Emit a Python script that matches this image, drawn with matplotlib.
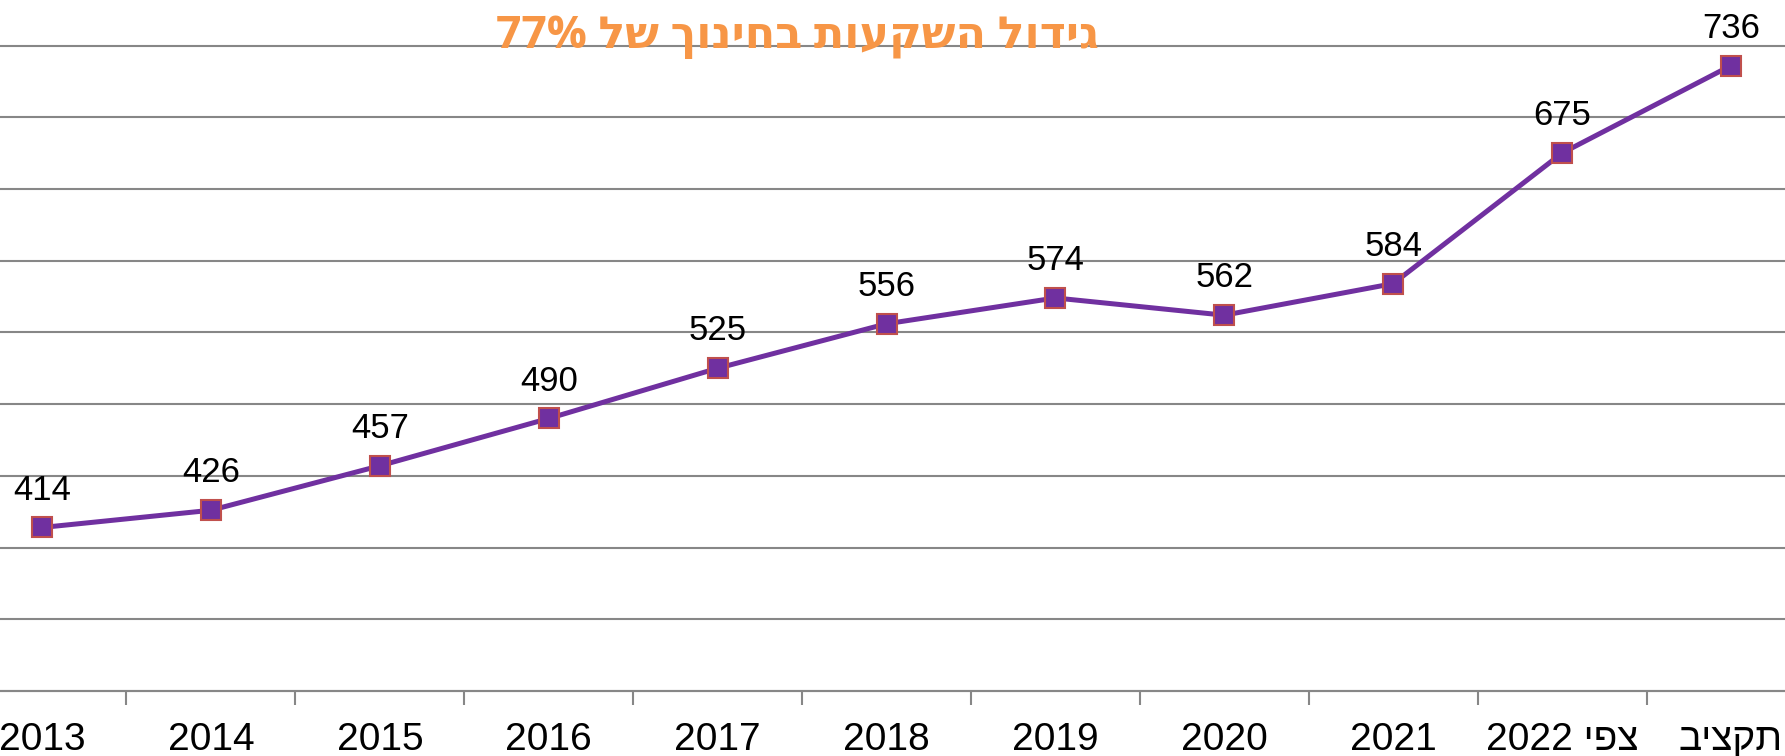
import matplotlib.pyplot as plt

years = ["2013", "2014", "2015", "2016", "2017", "2018", "2019", "2020", "2021", "2022 יפצ", "ביצקת"]
values = [414, 426, 457, 490, 525, 556, 574, 562, 584, 675, 736]
grid_levels = list(range(300, 751, 50))
title = "77% לש ךוניחב תועקשה לודיג"  # visual order for LTR rendering

purple = "#7030A0"
edge = "#C0504D"
gray = "#878787"
orange = "#F79646"
fonts = ["Liberation Sans", "DejaVu Sans"]

fig = plt.figure(figsize=(17.85, 7.56), dpi=100)
ax = fig.add_axes([0, 65 / 756, 1, (691 - 45.5) / 756])

x = list(range(len(values)))
ax.plot(x, values, color=purple, lw=3.6, marker="s", markersize=14.5,
        markerfacecolor=purple, markeredgecolor=edge, markeredgewidth=1.5, zorder=3)

for xi, v in zip(x, values):
    ax.annotate(str(v), (xi, v), xytext=(0, 20), textcoords="offset points",
                ha="center", va="baseline", fontsize=25, family=fonts)

ax.set_xlim(-0.249, 10.32)
ax.set_ylim(grid_levels[0], grid_levels[-1])
ax.set_yticks(grid_levels)
ax.yaxis.grid(True, color=gray, lw=1.5)
for gl in ax.get_ygridlines():
    gl.set_clip_on(False)
ax.tick_params(axis="y", length=0, labelleft=False)

ax.set_xticks(x)
ax.set_xticklabels(years, family=fonts, fontsize=28)
ax.tick_params(axis="x", length=0, pad=22)
ax.set_xticks([i + 0.5 for i in x[:-1]], minor=True)
ax.tick_params(axis="x", which="minor", length=10, width=1.5, color=gray)

for s in ["top", "left", "right"]:
    ax.spines[s].set_visible(False)
ax.spines["bottom"].set_color(gray)
ax.spines["bottom"].set_linewidth(1.5)

fig.text(797 / 1785, 1 - 48 / 756, title, ha="center", va="baseline",
         fontsize=32, fontweight="bold", color=orange,
         family=["Open Sans", "DejaVu Sans"])

fig.savefig("out.png", dpi=100)
